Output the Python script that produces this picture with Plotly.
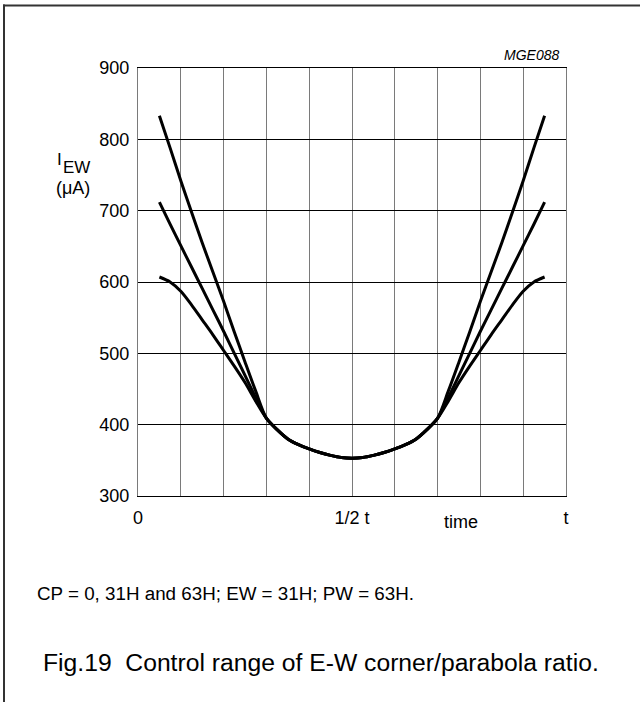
import plotly.graph_objects as go

# ---- data ----
time_x = [0.5, 0.75, 1.0, 1.25, 1.5, 1.75, 2.0, 2.25, 2.5, 2.75, 3.0, 3.25, 3.5, 3.75, 4.0, 4.25, 4.5, 4.75,
          5.0,
          5.25, 5.5, 5.75, 6.0, 6.25, 6.5, 6.75, 7.0, 7.25, 7.5, 7.75, 8.0, 8.25, 8.5, 8.75, 9.0, 9.25, 9.5]

i_ew_cp63 = [833, 788, 742, 698, 655, 614, 573, 530, 488, 447, 409, 393, 380, 372, 366, 361, 357, 354,
             353,
             354, 357, 361, 366, 372, 380, 393, 409, 447, 488, 530, 573, 614, 655, 698, 742, 788, 833]
i_ew_cp31 = [712, 681, 651, 621, 591, 561, 531, 500, 469, 438, 409, 393, 380, 372, 366, 361, 357, 354,
             353,
             354, 357, 361, 366, 372, 380, 393, 409, 438, 469, 500, 531, 561, 591, 621, 651, 681, 712]
i_ew_cp0 = [607, 600, 587, 568, 547, 526, 504, 482, 459, 433, 409, 393, 380, 372, 366, 361, 357, 354,
            353,
            354, 357, 361, 366, 372, 380, 393, 409, 433, 459, 482, 504, 526, 547, 568, 587, 600, 607]

x_tick_vals = [0, 5, 10]
x_tick_text = ["0", "1/2 t", "t"]
y_tick_vals = [300, 400, 500, 600, 700, 800, 900]

FONT = "Liberation Sans, Arial, Helvetica, sans-serif"

W, H = 640, 702
L, R, T, B = 138, 566, 68, 496


def px(x):
    return (x - L) / (R - L)


def py(y):
    return (B - y) / (B - T)


fig = go.Figure()
for series in (i_ew_cp63, i_ew_cp31, i_ew_cp0):
    fig.add_trace(go.Scatter(x=time_x, y=series, mode="lines",
                             line=dict(color="black", width=3, shape="spline", smoothing=0.8),
                             hoverinfo="skip", showlegend=False))

fig.update_layout(
    width=W, height=H,
    margin=dict(l=L, r=W - R, t=T, b=H - B, pad=0),
    paper_bgcolor="white", plot_bgcolor="white",
    font=dict(family=FONT, size=18, color="black"),
    showlegend=False,
)

fig.update_xaxes(range=[0, 10], tickvals=list(range(0, 11)),
                 ticktext=[x_tick_text[x_tick_vals.index(v)] if v in x_tick_vals else "" for v in range(0, 11)],
                 showgrid=True, gridcolor="#7a7a7a", gridwidth=1,
                 showline=True, mirror=True, linecolor="black", linewidth=1,
                 ticks="outside", ticklen=5, tickcolor="rgba(0,0,0,0)",
                 zeroline=False, tickfont=dict(size=18))
fig.update_yaxes(range=[300, 900], tickvals=y_tick_vals,
                 showgrid=True, gridcolor="black", gridwidth=1,
                 showline=True, mirror=True, linecolor="#7a7a7a", linewidth=1,
                 ticks="outside", ticklen=4, tickcolor="rgba(0,0,0,0)",
                 zeroline=False, tickfont=dict(size=18))

ann = [
    dict(text="MGE088", x=px(561), y=py(55), xanchor="right", yanchor="middle",
         font=dict(size=14, style="italic")),
    dict(text="I", x=px(59.5), y=py(159), xanchor="center", yanchor="middle", font=dict(size=17)),
    dict(text="EW", x=px(76), y=py(167.5), xanchor="center", yanchor="middle", font=dict(size=17)),
    dict(text="(μA)", x=px(73), y=py(188), xanchor="center", yanchor="middle", font=dict(size=18)),
    dict(text="time", x=px(461), y=py(522), xanchor="center", yanchor="middle", font=dict(size=18)),
    dict(text="CP = 0, 31H and 63H; EW = 31H; PW = 63H.", x=px(35), y=py(593),
         xanchor="left", yanchor="middle", font=dict(size=18.8)),
    dict(text="Fig.19\u00a0\u00a0Control range of E-W corner/parabola ratio.", x=px(41), y=py(662),
         xanchor="left", yanchor="middle", font=dict(size=24.7)),
]
for a in ann:
    fig.add_annotation(xref="paper", yref="paper", showarrow=False, **a)

# outer frame
fig.add_shape(type="line", xref="paper", yref="paper", x0=px(3), x1=px(640), y0=py(5.5), y1=py(5.5),
              line=dict(color="#333", width=2))
fig.add_shape(type="line", xref="paper", yref="paper", x0=px(4), x1=px(4), y0=py(4.5), y1=py(702),
              line=dict(color="#333", width=2))

fig.write_html("out.html", config={"displayModeBar": False},
               post_script="document.body.style.margin='0';document.body.style.overflow='hidden';")
